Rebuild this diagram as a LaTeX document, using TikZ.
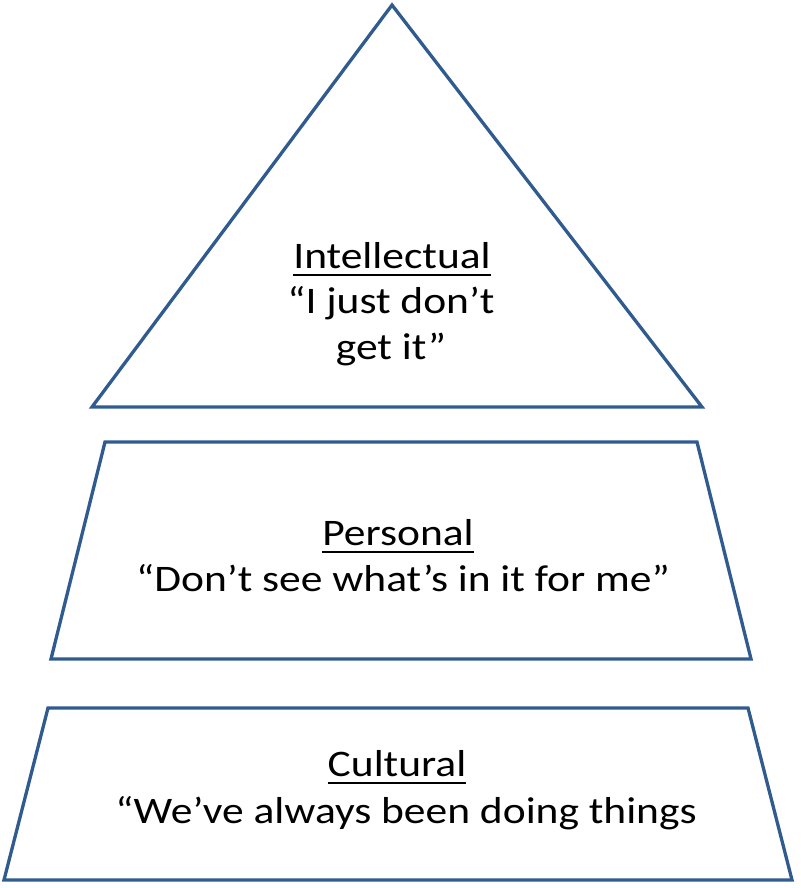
\documentclass[tikz,border=0pt]{standalone}
\usepackage{fontspec}
\setmainfont{Carlito}[FakeStretch=1.16]
\definecolor{edge}{HTML}{2F5B8F}
\begin{document}
\begin{tikzpicture}[x=1pt,y=-1pt,
  shapeline/.style={draw=edge,line width=3.3pt,line join=miter},
  lbl/.style={anchor=base,inner sep=0pt,font=\fontsize{37.5}{44}\selectfont,text=black},
  uline/.style={draw=black,line width=2.6pt}]
\useasboundingbox (0,0) rectangle (800,888);
% shapes
\coordinate (t1) at (392,5);
\coordinate (t2) at (702,407);
\coordinate (t3) at (92,407);
\draw[shapeline] (t1) -- (t2) -- (t3) -- cycle;
\coordinate (p1) at (105,442);
\coordinate (p2) at (697,442);
\coordinate (p3) at (751,659);
\coordinate (p4) at (51,659);
\draw[shapeline] (p1) -- (p2) -- (p3) -- (p4) -- cycle;
\coordinate (c1) at (48,708);
\coordinate (c2) at (748,708);
\coordinate (c3) at (792,880);
\coordinate (c4) at (4,880);
\draw[shapeline] (c1) -- (c2) -- (c3) -- (c4) -- cycle;
% texts
\node[lbl] (i1) at (392,268) {Intellectual};
\node[lbl] (i2) at (391,313) {“I just don’t};
\node[lbl] (i3) at (391,359) {get it”};
\node[lbl] (q1) at (398,545) {Personal};
\node[lbl] (q2) at (403,591) {“Don’t see what’s in it for me”};
\node[lbl] (k1) at (397,776) {Cultural};
\node[lbl] (k2) at (406,823) {“We’ve always been doing things};
\foreach \n in {i1,q1,k1}
  \draw[uline] ([yshift=-7pt]\n.base west) -- ([yshift=-7pt]\n.base east);
\end{tikzpicture}
\end{document}
